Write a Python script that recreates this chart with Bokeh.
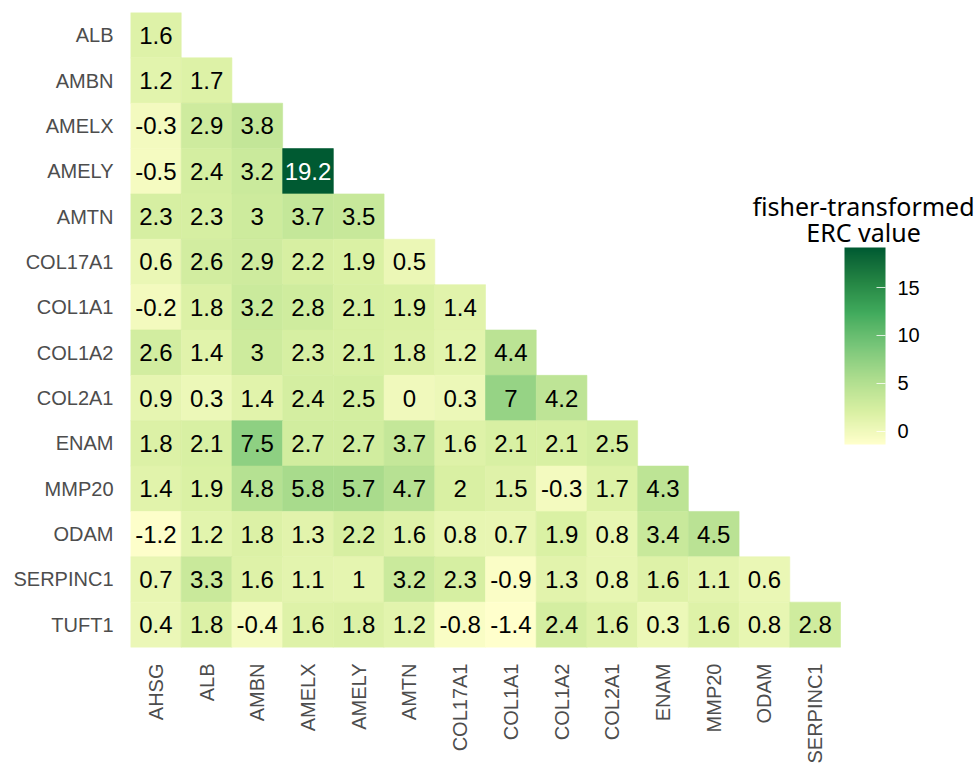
import numpy as np
from bokeh.plotting import figure
from bokeh.models import (ColumnDataSource, LinearColorMapper, ColorBar, FixedTicker,
                          FactorRange, Range1d, Label)
from bokeh.core.properties import value
from bokeh.embed import file_html
from bokeh.resources import INLINE

# ---- data: lower-triangular matrix of fisher-transformed ERC values ----
rows = ["ALB", "AMBN", "AMELX", "AMELY", "AMTN", "COL17A1", "COL1A1", "COL1A2",
        "COL2A1", "ENAM", "MMP20", "ODAM", "SERPINC1", "TUFT1"]
cols = ["AHSG", "ALB", "AMBN", "AMELX", "AMELY", "AMTN", "COL17A1", "COL1A1",
        "COL1A2", "COL2A1", "ENAM", "MMP20", "ODAM", "SERPINC1"]

erc_alb = [1.6]
erc_ambn = [1.2, 1.7]
erc_amelx = [-0.3, 2.9, 3.8]
erc_amely = [-0.5, 2.4, 3.2, 19.2]
erc_amtn = [2.3, 2.3, 3, 3.7, 3.5]
erc_col17a1 = [0.6, 2.6, 2.9, 2.2, 1.9, 0.5]
erc_col1a1 = [-0.2, 1.8, 3.2, 2.8, 2.1, 1.9, 1.4]
erc_col1a2 = [2.6, 1.4, 3, 2.3, 2.1, 1.8, 1.2, 4.4]
erc_col2a1 = [0.9, 0.3, 1.4, 2.4, 2.5, 0, 0.3, 7, 4.2]
erc_enam = [1.8, 2.1, 7.5, 2.7, 2.7, 3.7, 1.6, 2.1, 2.1, 2.5]
erc_mmp20 = [1.4, 1.9, 4.8, 5.8, 5.7, 4.7, 2, 1.5, -0.3, 1.7, 4.3]
erc_odam = [-1.2, 1.2, 1.8, 1.3, 2.2, 1.6, 0.8, 0.7, 1.9, 0.8, 3.4, 4.5]
erc_serpinc1 = [0.7, 3.3, 1.6, 1.1, 1, 3.2, 2.3, -0.9, 1.3, 0.8, 1.6, 1.1, 0.6]
erc_tuft1 = [0.4, 1.8, -0.4, 1.6, 1.8, 1.2, -0.8, -1.4, 2.4, 1.6, 0.3, 1.6, 0.8, 2.8]

erc_rows = [erc_alb, erc_ambn, erc_amelx, erc_amely, erc_amtn, erc_col17a1, erc_col1a1,
            erc_col1a2, erc_col2a1, erc_enam, erc_mmp20, erc_odam, erc_serpinc1, erc_tuft1]

legend_ticks = [0, 5, 10, 15]

# ---- YlGn sequential palette interpolated in CIE Lab ----
ylgn7 = ["#ffffcc", "#d9f0a3", "#addd8e", "#78c679", "#41ab5d", "#238443", "#005a32"]

M = np.array([[0.4124564, 0.3575761, 0.1804375],
              [0.2126729, 0.7151522, 0.0721750],
              [0.0193339, 0.1191920, 0.9503041]])
WHITE = np.array([0.95047, 1.0, 1.08883])


def hex_to_lab(h):
    rgb = np.array([int(h[i:i + 2], 16) for i in (1, 3, 5)]) / 255.0
    lin = np.where(rgb <= 0.04045, rgb / 12.92, ((rgb + 0.055) / 1.055) ** 2.4)
    xyz = M @ lin / WHITE
    f = np.where(xyz > 0.008856, np.cbrt(xyz), 7.787 * xyz + 16 / 116)
    return np.array([116 * f[1] - 16, 500 * (f[0] - f[1]), 200 * (f[1] - f[2])])


def lab_to_hex(lab):
    fy = (lab[0] + 16) / 116
    fx = fy + lab[1] / 500
    fz = fy - lab[2] / 200
    f = np.array([fx, fy, fz])
    xyz = np.where(f ** 3 > 0.008856, f ** 3, (f - 16 / 116) / 7.787) * WHITE
    lin = np.linalg.solve(M, xyz)
    lin = np.clip(lin, 0, 1)
    rgb = np.where(lin <= 0.0031308, 12.92 * lin, 1.055 * lin ** (1 / 2.4) - 0.055)
    r, g, b = (np.clip(np.round(rgb * 255), 0, 255)).astype(int)
    return "#%02x%02x%02x" % (r, g, b)


anchors = np.array([hex_to_lab(c) for c in ylgn7])
pos = np.linspace(0, 1, len(ylgn7))
palette = []
for t in np.linspace(0, 1, 256):
    lab = np.array([np.interp(t, pos, anchors[:, k]) for k in range(3)])
    palette.append(lab_to_hex(lab))

# ---- long-form table for the tiles ----
xs, ys, vals, labels, tcolors = [], [], [], [], []
for r, row_vals in zip(rows, erc_rows):
    for j, v in enumerate(row_vals):
        xs.append(j + 1)
        ys.append(r)
        vals.append(v)
        labels.append(f"{v:g}")
        tcolors.append("white" if v > 15 else "black")

src = ColumnDataSource(dict(x=xs, y=ys, v=vals, label=labels, tcolor=tcolors))

all_vals = [v for rv in erc_rows for v in rv]
mapper = LinearColorMapper(palette=palette, low=min(all_vals), high=max(all_vals))

# ---- figure ----
W, H = 976, 766
left, top, bottom = 130, 12, 116
heat_w = 710                      # pixel width taken by the tile columns
frame_w = W - left
x_end = 0.5 + len(cols) * frame_w / heat_w

p = figure(width=W, height=H, output_backend="svg", toolbar_location=None,
           x_range=Range1d(0.5, x_end), y_range=FactorRange(factors=rows[::-1]),
           min_border_left=left, min_border_right=0, min_border_top=top,
           min_border_bottom=bottom, background_fill_color="white",
           border_fill_color="white")
p.outline_line_color = None
p.grid.visible = False

p.rect(x="x", y="y", width=1, height=1, source=src,
       fill_color={"field": "v", "transform": mapper},
       line_color={"field": "v", "transform": mapper}, line_width=0.6)

p.text(x="x", y="y", text="label", source=src, text_align="center",
       text_baseline="middle", text_color="tcolor",
       text_font=value("Liberation Sans"), text_font_size=value("24px"))

for ax in (p.xaxis[0], p.yaxis[0]):
    ax.axis_line_color = None
    ax.major_tick_line_color = None
    ax.minor_tick_line_color = None
    ax.major_tick_in = 0
    ax.major_tick_out = 0
    ax.major_label_text_font = "Liberation Sans"
    ax.major_label_text_font_size = "20px"
    ax.major_label_text_color = "#4d4d4d"

p.yaxis.major_label_standoff = 17
p.xaxis.major_label_standoff = 16
p.xaxis.ticker = FixedTicker(ticks=list(range(1, len(cols) + 1)))
p.xaxis.major_label_overrides = {i + 1: c for i, c in enumerate(cols)}
p.xaxis.major_label_orientation = np.pi / 2

# ---- colour legend ----
cb = ColorBar(color_mapper=mapper, location=(714, 203), width=41, height=197,
              padding=0, margin=0, title=None,
              ticker=FixedTicker(ticks=legend_ticks),
              major_tick_in=9, major_tick_out=0,
              major_tick_line_color="white", major_tick_line_alpha=0.8,
              minor_tick_line_color=None, bar_line_color=None,
              label_standoff=12, major_label_text_font="Liberation Sans",
              major_label_text_font_size="20px", major_label_text_color="black",
              background_fill_color=None, border_line_color=None)
p.add_layout(cb, "center")

for txt, yy in (("fisher-transformed", 442), ("ERC value", 416)):
    p.add_layout(Label(x=733, y=yy, x_units="screen", y_units="screen", text=txt,
                       text_align="center", text_baseline="alphabetic",
                       text_font="Noto Sans", text_font_size="25px",
                       text_color="black"))

open("out.html", "w").write(file_html(p, INLINE))
